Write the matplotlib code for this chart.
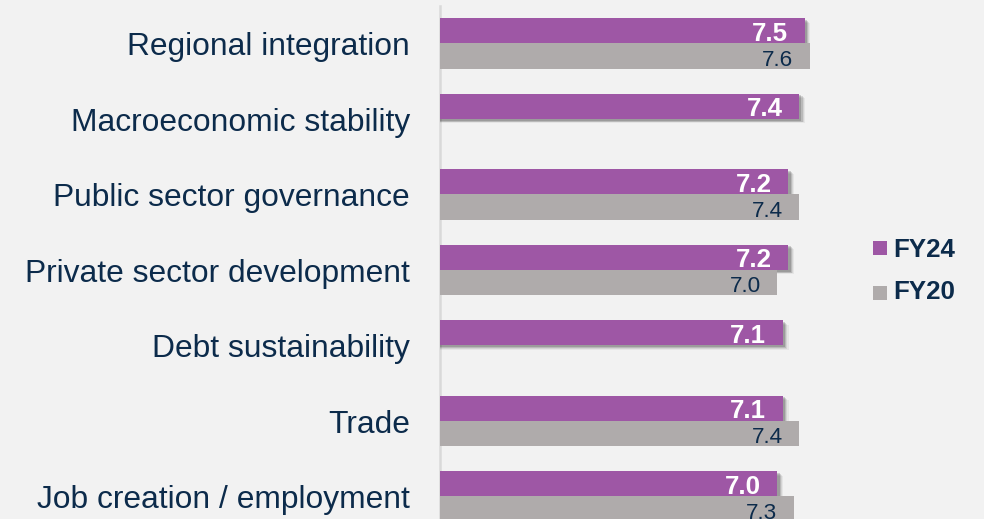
import matplotlib
matplotlib.use("Agg")
import matplotlib.pyplot as plt
import matplotlib.patheffects as pe
from matplotlib.patches import Rectangle

categories = ["Regional integration", "Macroeconomic stability", "Public sector governance",
              "Private sector development", "Debt sustainability", "Trade",
              "Job creation / employment"]
fy24 = [7.5, 7.4, 7.2, 7.2, 7.1, 7.1, 7.0]
fy20 = [7.6, None, 7.4, 7.0, None, 7.4, 7.3]
series_names = ["FY24", "FY20"]

PURPLE = "#9E57A5"
GRAY = "#AFABAB"
NAVY = "#0C2B4B"
BG = "#F2F2F2"

W, H = 984, 519
DPI = 100
plt.rcParams['font.family'] = ['Liberation Sans', 'DejaVu Sans']

fig = plt.figure(figsize=(W / DPI, H / DPI), dpi=DPI, facecolor=BG)

# axes geometry (pixels)
ax_left, ax_right, ax_top, ax_bot = 440, 860, 6, 519
ax = fig.add_axes([ax_left / W, (H - ax_bot) / H, (ax_right - ax_left) / W, (ax_bot - ax_top) / H])
ax.set_facecolor(BG)

px_per_unit = 54.7
xmin = 0.83
ax.set_xlim(xmin, xmin + (ax_right - ax_left) / px_per_unit)
row_px = 75.5
row0 = 43.3
ax.set_ylim((ax_bot - row0) / row_px, (ax_top - row0) / row_px)

h = 25.2 / row_px
shadow = [pe.SimplePatchShadow(offset=(4.0, -3.2), shadow_rgbFace='k', alpha=0.05),
          pe.SimplePatchShadow(offset=(3.2, -2.6), shadow_rgbFace='k', alpha=0.08),
          pe.SimplePatchShadow(offset=(2.4, -2.0), shadow_rgbFace='k', alpha=0.12),
          pe.SimplePatchShadow(offset=(1.5, -1.3), shadow_rgbFace='k', alpha=0.16),
          pe.Normal()]

for i, v in enumerate(fy24):
    b = ax.barh(i - h / 2, v, height=h, left=0, color=PURPLE, zorder=2)
    for p in b:
        p.set_path_effects(shadow)
for i, v in enumerate(fy20):
    if v is not None:
        ax.barh(i + h / 2, v, height=h, left=0, color=GRAY, zorder=3)

# value labels
for i, v in enumerate(fy24):
    ax.annotate(f"{v:.1f}", (v, i), xytext=(-16.7 * 0.72, 2.6 * 0.72), textcoords='offset points',
                ha='right', va='baseline', color='white', fontsize=18.6, fontweight='bold', zorder=5)
for i, v in enumerate(fy20):
    if v is not None:
        ax.annotate(f"{v:.1f}", (v, i), xytext=(-16.7 * 0.72, -22.4 * 0.72), textcoords='offset points',
                    ha='right', va='baseline', color=NAVY, fontsize=16.2, zorder=5)

# category labels
for i, c in enumerate(categories):
    ax.annotate(c, (xmin, i), xytext=(-30 * 0.72, -11.7 * 0.72), textcoords='offset points',
                ha='right', va='baseline', color=NAVY, fontsize=22.9, annotation_clip=False)

for s in ["top", "right", "bottom"]:
    ax.spines[s].set_visible(False)
ax.spines["left"].set_color("#D9D9D9")
ax.spines["left"].set_linewidth(1.8)
ax.spines["left"].set_zorder(1)
ax.set_xticks([])
ax.set_yticks([])

# legend (manual)
def fx(x):
    return x / W

def fy(y):
    return 1 - y / H

legend_items = [(series_names[0], PURPLE, 241, 256.7), (series_names[1], GRAY, 286, 299.0)]
for name, col, sq_top, base in legend_items:
    fig.add_artist(Rectangle((fx(873), fy(sq_top + 13.5)), 14 / W, 13.5 / H,
                             transform=fig.transFigure, color=col, lw=0))
    fig.text(fx(893), fy(base), name, ha='left', va='baseline', color=NAVY,
             fontsize=18.6, fontweight='bold')

fig.savefig("out.png", dpi=DPI, facecolor=BG)
